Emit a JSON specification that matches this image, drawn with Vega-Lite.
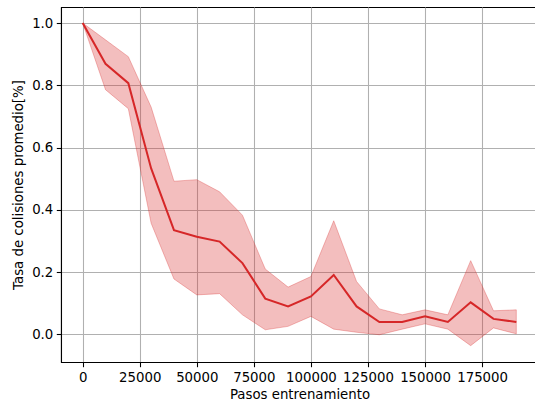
{
  "$schema": "https://vega.github.io/schema/vega-lite/v6.json",
  "width": 477,
  "height": 355,
  "autosize": {"type": "none"},
  "padding": {"left": 61, "top": 7, "right": 0, "bottom": 42},
  "background": "white",
  "config": {
    "font": "DejaVu Sans",
    "view": {"stroke": "black", "strokeWidth": 1.07},
    "axis": {
      "zindex": 1,
      "domainColor": "black",
      "domainWidth": 1.07,
      "tickColor": "black",
      "tickWidth": 1.07,
      "tickSize": 4.7,
      "labelPadding": 3.5,
      "labelColor": "black",
      "labelFont": "DejaVu Sans",
      "labelFontSize": 13.3,
      "titleFont": "DejaVu Sans",
      "titleFontSize": 13.3,
      "titleFontWeight": "normal",
      "titleColor": "black",
      "grid": true,
      "gridColor": "#b0b0b0",
      "gridWidth": 1.07
    }
  },
  "data": {
    "values": [
      {"step": 0, "mean": 1.0, "lo": 1.0, "hi": 1.0},
      {"step": 10000, "mean": 0.869, "lo": 0.786, "hi": 0.946},
      {"step": 20000, "mean": 0.807, "lo": 0.725, "hi": 0.892},
      {"step": 30000, "mean": 0.533, "lo": 0.357, "hi": 0.73},
      {"step": 40000, "mean": 0.335, "lo": 0.178, "hi": 0.492},
      {"step": 50000, "mean": 0.314, "lo": 0.127, "hi": 0.497},
      {"step": 60000, "mean": 0.298, "lo": 0.131, "hi": 0.458},
      {"step": 70000, "mean": 0.229, "lo": 0.063, "hi": 0.383},
      {"step": 80000, "mean": 0.115, "lo": 0.015, "hi": 0.21},
      {"step": 90000, "mean": 0.09, "lo": 0.026, "hi": 0.152},
      {"step": 100000, "mean": 0.122, "lo": 0.058, "hi": 0.186},
      {"step": 110000, "mean": 0.191, "lo": 0.017, "hi": 0.365},
      {"step": 120000, "mean": 0.09, "lo": 0.007, "hi": 0.17},
      {"step": 130000, "mean": 0.04, "lo": -0.001, "hi": 0.082},
      {"step": 140000, "mean": 0.04, "lo": 0.017, "hi": 0.063},
      {"step": 150000, "mean": 0.058, "lo": 0.034, "hi": 0.079},
      {"step": 160000, "mean": 0.04, "lo": 0.017, "hi": 0.063},
      {"step": 170000, "mean": 0.103, "lo": -0.036, "hi": 0.237},
      {"step": 180000, "mean": 0.05, "lo": 0.021, "hi": 0.076},
      {"step": 190000, "mean": 0.04, "lo": 0.002, "hi": 0.079}
    ]
  },
  "encoding": {
    "x": {
      "field": "step",
      "type": "quantitative",
      "title": "Pasos entrenamiento",
      "scale": {"domain": [-9500, 199500], "nice": false, "zero": false},
      "axis": {"values": [0, 25000, 50000, 75000, 100000, 125000, 150000, 175000], "format": "d", "labelFlush": false, "labelOverlap": false, "titlePadding": 4}
    }
  },
  "layer": [
    {
      "mark": {"type": "area", "color": "#d62728", "fillOpacity": 0.3, "stroke": "#d62728", "strokeOpacity": 0.3, "strokeWidth": 1},
      "encoding": {
        "y": {
          "field": "lo",
          "type": "quantitative",
          "title": "Tasa de colisiones promedio[%]",
          "scale": {"domain": [-0.0885, 1.0515], "nice": false, "zero": false},
          "axis": {"values": [0, 0.2, 0.4, 0.6, 0.8, 1.0], "format": ".1f", "titlePadding": 6}
        },
        "y2": {"field": "hi"}
      }
    },
    {
      "mark": {"type": "line", "color": "#d62728", "strokeWidth": 2},
      "encoding": {
        "y": {"field": "mean", "type": "quantitative"}
      }
    }
  ]
}
